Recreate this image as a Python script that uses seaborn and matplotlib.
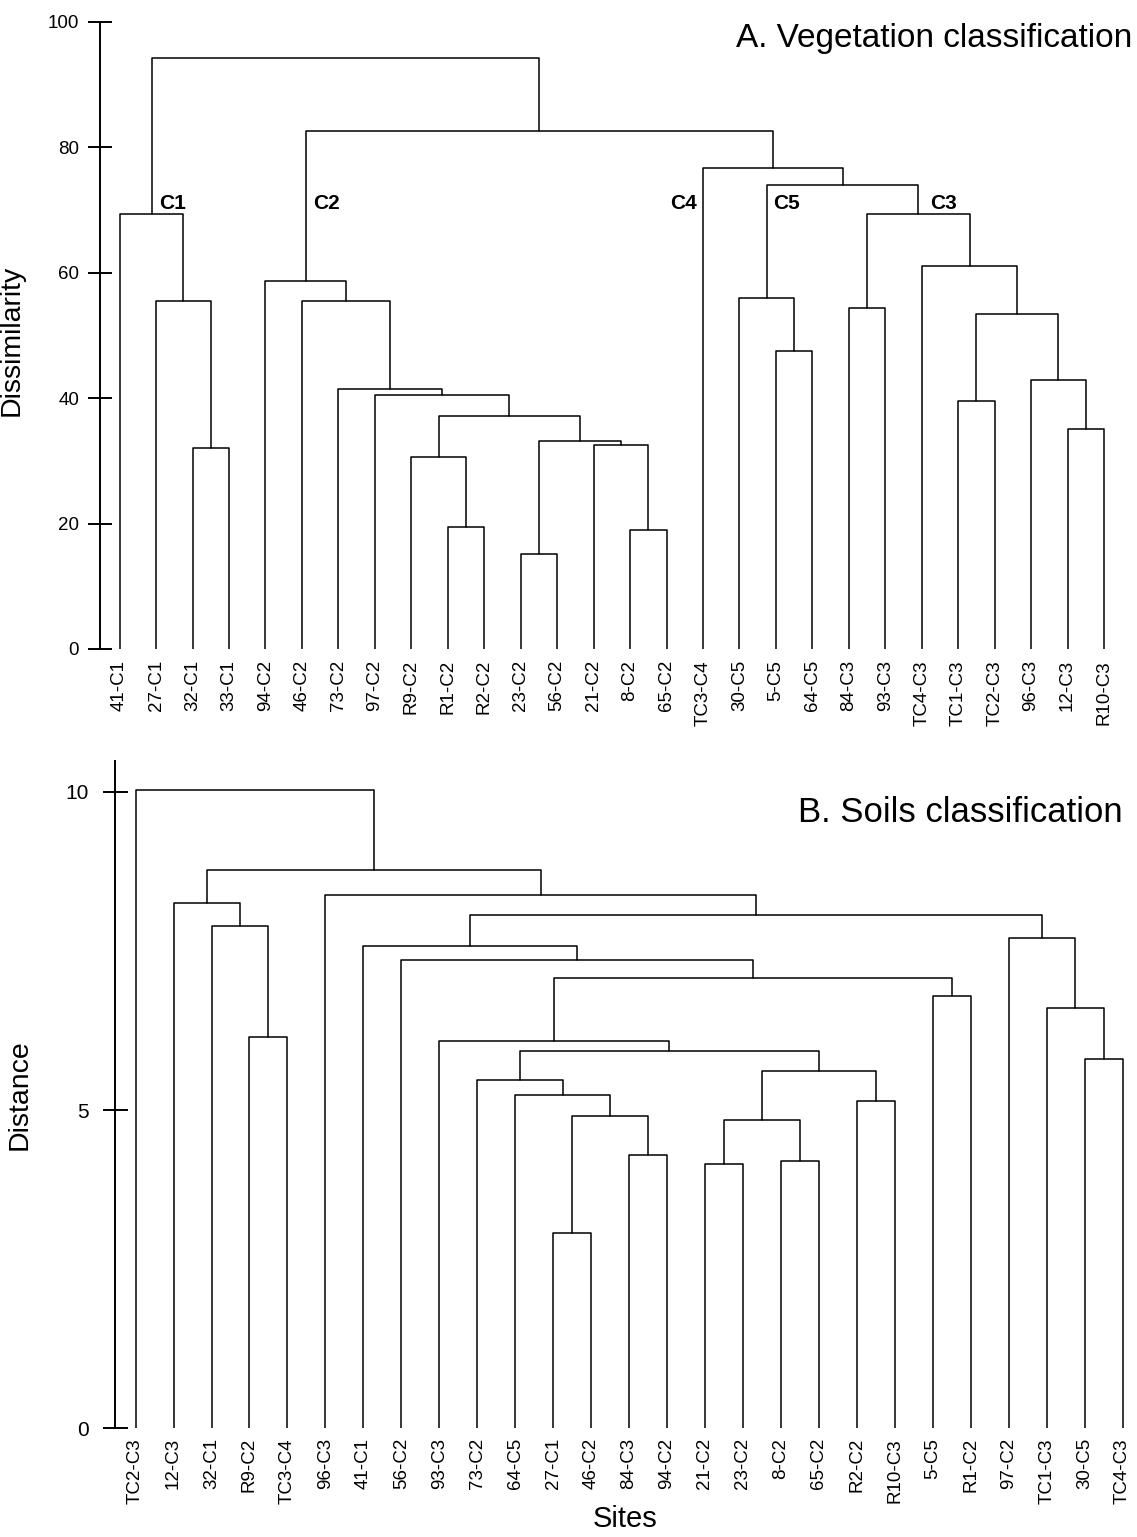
import numpy as np
import pandas as pd
import matplotlib
matplotlib.use("Agg")
import matplotlib.pyplot as plt
import seaborn as sns

# ---------------- data ----------------
veg_leaves = ["41-C1", "27-C1", "32-C1", "33-C1", "94-C2", "46-C2", "73-C2", "97-C2",
              "R9-C2", "R1-C2", "R2-C2", "23-C2", "56-C2", "21-C2", "8-C2", "65-C2",
              "TC3-C4", "30-C5", "5-C5", "64-C5", "84-C3", "93-C3", "TC4-C3", "TC1-C3",
              "TC2-C3", "96-C3", "12-C3", "R10-C3"]
veg_left = ["32-C1", "27-C1", "41-C1", "R1-C2", "R9-C2", "23-C2", "8-C2", "21-C2", "n5",
            "n4", "97-C2", "73-C2", "46-C2", "94-C2", "5-C5", "30-C5", "84-C3", "TC1-C3",
            "12-C3", "96-C3", "n17", "TC4-C3", "n16", "n15", "TC3-C4", "n13", "n2"]
veg_right = ["33-C1", "n0", "n1", "R2-C2", "n3", "56-C2", "65-C2", "n6", "n7",
             "n8", "n9", "n10", "n11", "n12", "64-C5", "n14", "93-C3", "TC2-C3",
             "R10-C3", "n18", "n19", "n20", "n21", "n22", "n23", "n24", "n25"]
veg_height = [32.1, 55.5, 69.3, 19.5, 30.7, 15.2, 19.0, 32.6, 33.1,
              37.2, 40.5, 41.5, 55.5, 58.7, 47.6, 56.0, 54.4, 39.5,
              35.1, 42.9, 53.5, 61.1, 69.4, 74.0, 76.7, 82.6, 94.2]
veg_groups = ["C1", "C2", "C4", "C5", "C3"]

soil_leaves = ["TC2-C3", "12-C3", "32-C1", "R9-C2", "TC3-C4", "96-C3", "41-C1", "56-C2",
               "93-C3", "73-C2", "64-C5", "27-C1", "46-C2", "84-C3", "94-C2", "21-C2",
               "23-C2", "8-C2", "65-C2", "R2-C2", "R10-C3", "5-C5", "R1-C2", "97-C2",
               "TC1-C3", "30-C5", "TC4-C3"]
soil_left = ["R9-C2", "32-C1", "12-C3", "27-C1", "84-C3", "n3", "64-C5", "73-C2",
             "21-C2", "8-C2", "n8", "R2-C2", "n10", "n7", "93-C3", "5-C5", "n14",
             "56-C2", "41-C1", "30-C5", "TC1-C3", "97-C2", "n18", "96-C3", "n2", "TC2-C3"]
soil_right = ["TC3-C4", "n0", "n1", "46-C2", "94-C2", "n4", "n5", "n6",
              "23-C2", "65-C2", "n9", "R10-C3", "n11", "n12", "n13", "R1-C2", "n15",
              "n16", "n17", "TC4-C3", "n19", "n20", "n21", "n22", "n23", "n24"]
soil_height = [6.15, 7.90, 8.25, 3.07, 4.30, 4.91, 5.23, 5.48,
               4.16, 4.20, 4.85, 5.15, 5.62, 5.93, 6.08, 6.79, 7.08,
               7.36, 7.58, 5.80, 6.60, 7.71, 8.07, 8.38, 8.78, 10.03]


def dendro_segments(leaves, left, right, height):
    pos = {name: (float(i), 0.0) for i, name in enumerate(leaves)}
    rows = []
    for k, (a, b, h) in enumerate(zip(left, right, height)):
        xa, ya = pos[a]
        xb, yb = pos[b]
        for x, y in [(xa, ya), (xa, h), (xb, h), (xb, yb)]:
            rows.append({"x": x, "y": y, "seg": k})
        pos[f"n{k}"] = ((xa + xb) / 2.0, h)
    return pd.DataFrame(rows), pos


sns.set_theme(style="white", rc={"text.color": "black", "axes.labelcolor": "black",
                                 "xtick.color": "black", "ytick.color": "black",
                                 "axes.edgecolor": "black"})
plt.rcParams["font.family"] = ["Liberation Sans", "DejaVu Sans"]

W, H = 1137, 1537
fig = plt.figure(figsize=(W / 100, H / 100), dpi=100)

LW = 1.1
SPW = 1.4

# ---------------- panel A ----------------
axA = fig.add_axes([100 / W, 1 - 649 / H, (W - 100) / W, (649 - 22) / H])
dfA, posA = dendro_segments(veg_leaves, veg_left, veg_right, veg_height)
sns.lineplot(data=dfA, x="x", y="y", units="seg", estimator=None, sort=False,
             color="black", linewidth=LW, ax=axA)
axA.set_xlim(-(119.6 - 100) / 36.46, (W - 119.6) / 36.46)
axA.set_ylim(0, 100)
axA.set_yticks([0, 20, 40, 60, 80, 100])
axA.set_xticks(range(len(veg_leaves)))
axA.set_xticklabels(veg_leaves, rotation=90, fontsize=13.5, va="top", ha="center")
axA.tick_params(axis="x", length=0, pad=8)
axA.tick_params(axis="y", direction="inout", length=17, width=SPW, labelsize=13.5,
                pad=6.5, left=True, color="black")
for s in ["top", "right", "bottom"]:
    axA.spines[s].set_visible(False)
axA.spines["left"].set_linewidth(SPW)
axA.spines["left"].set_color("black")
axA.set_xlabel("")
axA.set_ylabel("Dissimilarity", fontsize=20.5)
axA.yaxis.set_label_coords(-0.073, 0.493)
axA.text((1132 - 100) / (W - 100), 1 - (39 - 22) / (649 - 22),
         "A. Vegetation classification", transform=axA.transAxes,
         ha="right", va="center", fontsize=24)

grp_x = [1.08, 5.30, 15.84, 17.92, 22.23]
grp_ha = ["left", "left", "right", "left", "left"]
for g, gx, gha in zip(veg_groups, grp_x, grp_ha):
    axA.text(gx, 71.1, g, fontsize=15, fontweight="bold", ha=gha, va="center")

# ---------------- panel B ----------------
axB = fig.add_axes([115 / W, 1 - 1428.3 / H, (W - 115) / W, (1428.3 - 760.7) / H])
dfB, posB = dendro_segments(soil_leaves, soil_left, soil_right, soil_height)
sns.lineplot(data=dfB, x="x", y="y", units="seg", estimator=None, sort=False,
             color="black", linewidth=LW, ax=axB)
axB.set_xlim(-(135.6 - 115) / 37.96, (W - 135.6) / 37.96)
axB.set_ylim(0, 10.49)
axB.set_yticks([0, 5, 10])
axB.set_xticks(range(len(soil_leaves)))
axB.set_xticklabels(soil_leaves, rotation=90, fontsize=13.5, va="top", ha="center")
axB.tick_params(axis="x", length=0, pad=7)
axB.tick_params(axis="y", direction="inout", length=18, width=SPW, labelsize=15,
                pad=10, left=True, color="black")
for s in ["top", "right", "bottom"]:
    axB.spines[s].set_visible(False)
axB.spines["left"].set_linewidth(SPW)
axB.spines["left"].set_color("black")
axB.set_ylabel("Distance", fontsize=20.5)
axB.yaxis.set_label_coords(-0.081, 0.5)
axB.set_xlabel("Sites", fontsize=21)
axB.xaxis.set_label_coords((625.5 - 115) / (W - 115), (1428.3 - 1505) / (1428.3 - 760.7))
axB.text((1123 - 115) / (W - 115), (1428.3 - 812) / (1428.3 - 760.7),
         "B. Soils classification", transform=axB.transAxes,
         ha="right", va="center", fontsize=25)

fig.savefig("out.png", dpi=100, facecolor="white")
